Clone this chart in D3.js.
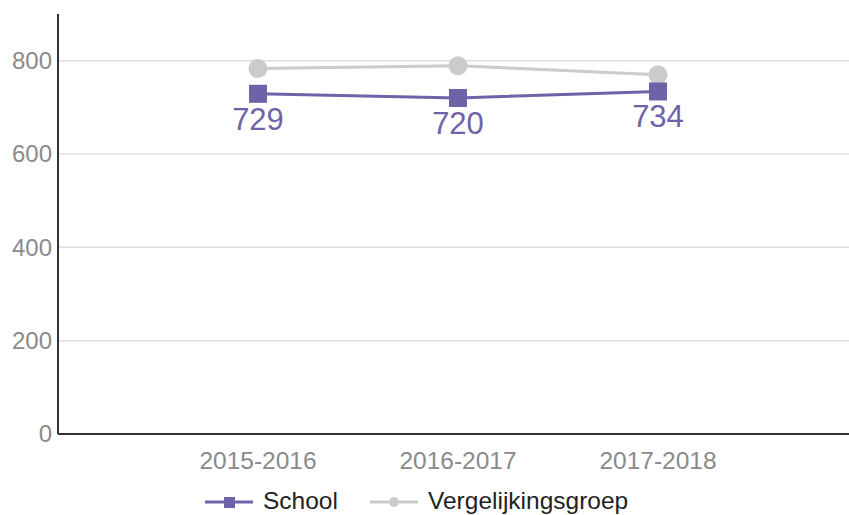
<!DOCTYPE html>
<html>
<head>
<meta charset="utf-8">
<script src="https://cdn.jsdelivr.net/npm/d3@7"></script>
<style>
  body { margin: 0; background: #fff; font-family: "Liberation Sans", Arial, sans-serif; }
</style>
</head>
<body>
<div id="chart"></div>
<script>
// Data
var years = ["2015-2016", "2016-2017", "2017-2018"];
var schoolValues = [729, 720, 734];
var groupValues = [783, 789, 770];
var yTicks = [0, 200, 400, 600, 800];

var svg__Width = 849;
var svg__Height = 515;
var margin = { top: 14, right: 0, bottom: 81, left: 58 };
var chart__Width = svg__Width - margin.left - margin.right;
var chart__Height = svg__Height - margin.top - margin.bottom;

var purple = "#6f62a8";
var grey = "#cbcbcb";

var svg = d3.select("#chart").append("svg")
  .attr("width", svg__Width)
  .attr("height", svg__Height);

var g = svg.append("g")
  .attr("transform", `translate(${margin.left}, ${margin.top})`);

var x = d3.scalePoint().domain(years).range([0, 800]).padding(1);
var y = d3.scaleLinear().domain([0, 900]).range([chart__Height, 0]);

// gridlines
g.selectAll(".grid").data(yTicks.slice(1)).enter().append("line")
  .attr("x1", 0).attr("x2", chart__Width)
  .attr("y1", d => y(d)).attr("y2", d => y(d))
  .attr("stroke", "#dedede").attr("stroke-width", 1.5);

// y tick labels
g.selectAll(".ylab").data(yTicks).enter().append("text")
  .attr("x", -6).attr("y", d => y(d)).attr("dy", "0.35em")
  .attr("text-anchor", "end")
  .attr("font-size", 24).attr("fill", "#8a8a8a")
  .text(d => d);

// x tick labels
g.selectAll(".xlab").data(years).enter().append("text")
  .attr("x", d => x(d)).attr("y", chart__Height + 35)
  .attr("text-anchor", "middle")
  .attr("font-size", 24.5).attr("fill", "#8a8a8a")
  .text(d => d);

// axes lines
g.append("line").attr("x1", 0).attr("x2", 0).attr("y1", 0).attr("y2", chart__Height)
  .attr("stroke", "#333").attr("stroke-width", 2);
g.append("line").attr("x1", 0).attr("x2", chart__Width).attr("y1", chart__Height).attr("y2", chart__Height)
  .attr("stroke", "#333").attr("stroke-width", 2);

var line = d3.line().x((d, i) => x(years[i])).y(d => y(d));

// comparison group
g.append("path").datum(groupValues).attr("d", line)
  .attr("fill", "none").attr("stroke", grey).attr("stroke-width", 3);
g.selectAll(".gdot").data(groupValues).enter().append("circle")
  .attr("cx", (d, i) => x(years[i])).attr("cy", d => y(d)).attr("r", 9.5)
  .attr("fill", grey);

// school
g.append("path").datum(schoolValues).attr("d", line)
  .attr("fill", "none").attr("stroke", purple).attr("stroke-width", 3);
g.selectAll(".sdot").data(schoolValues).enter().append("rect")
  .attr("x", (d, i) => x(years[i]) - 9).attr("y", d => y(d) - 9)
  .attr("width", 18).attr("height", 18)
  .attr("fill", purple);
g.selectAll(".slab").data(schoolValues).enter().append("text")
  .attr("x", (d, i) => x(years[i])).attr("y", d => y(d) + 36)
  .attr("text-anchor", "middle")
  .attr("font-size", 31).attr("fill", purple)
  .text(d => d);

// legend
var legend = svg.append("g").attr("transform", "translate(0, 502)");
legend.append("line").attr("x1", 205).attr("x2", 253).attr("y1", 0).attr("y2", 0)
  .attr("stroke", purple).attr("stroke-width", 3);
legend.append("rect").attr("x", 224).attr("y", -5).attr("width", 11).attr("height", 11).attr("fill", purple);
legend.append("text").attr("x", 263).attr("y", 7)
  .attr("font-size", 24.5).attr("fill", "#222").text("School");
legend.append("line").attr("x1", 370).attr("x2", 418).attr("y1", 0).attr("y2", 0)
  .attr("stroke", grey).attr("stroke-width", 3);
legend.append("circle").attr("cx", 394).attr("cy", 0).attr("r", 5).attr("fill", grey);
legend.append("text").attr("x", 428).attr("y", 7)
  .attr("font-size", 24.5).attr("fill", "#222").text("Vergelijkingsgroep");
</script>
</body>
</html>
